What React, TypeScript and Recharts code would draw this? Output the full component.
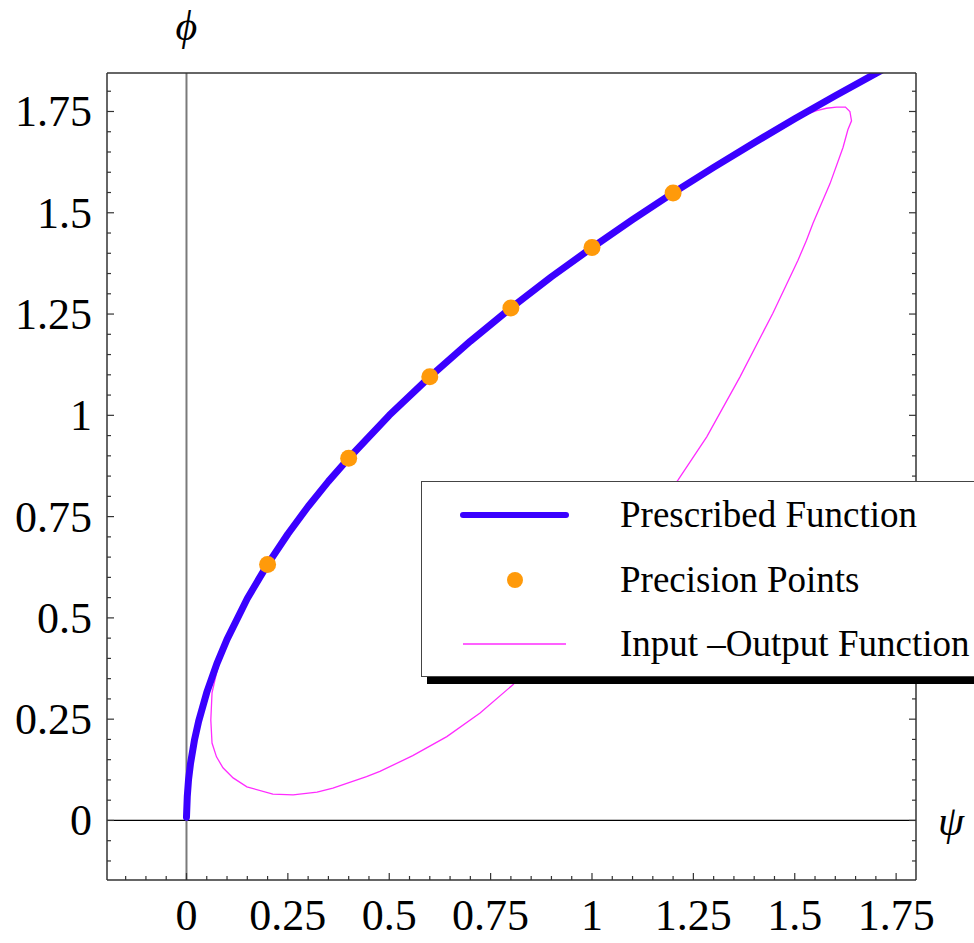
import React from 'react';
import { ComposedChart, Line, Scatter, XAxis, YAxis, ReferenceLine, Legend } from 'recharts';

// prescribed function phi(psi)
const prescribedPsi = [0, 0.002, 0.005, 0.01, 0.02, 0.03, 0.05, 0.075, 0.1, 0.15, 0.2, 0.25, 0.3, 0.35, 0.4, 0.5, 0.6, 0.7, 0.8, 0.9, 1.0, 1.1, 1.2, 1.3, 1.4, 1.5, 1.6, 1.7, 1.72];
const prescribedPhi = [0.008, 0.06, 0.1, 0.141, 0.2, 0.245, 0.316, 0.387, 0.447, 0.548, 0.632, 0.707, 0.775, 0.837, 0.894, 1.0, 1.095, 1.183, 1.265, 1.342, 1.414, 1.483, 1.549, 1.612, 1.673, 1.732, 1.789, 1.844, 1.855];

// precision points (orange dots)
const precisionPsi = [0.2, 0.4, 0.6, 0.8, 1.0, 1.2];
const precisionPhi = [0.632, 0.894, 1.095, 1.265, 1.414, 1.549];

// input-output function, a closed loop traced in order
const ioPsi = [0.074, 0.085, 0.1, 0.15, 0.2, 0.3, 0.4, 0.5, 0.6, 0.7, 0.8, 0.9, 1.0, 1.1, 1.2, 1.3, 1.4, 1.48, 1.504, 1.529, 1.554, 1.578, 1.603, 1.625, 1.636, 1.64, 1.631, 1.619, 1.587, 1.545, 1.529, 1.508, 1.446, 1.365, 1.283, 1.212, 1.1, 0.95, 0.805, 0.724, 0.642, 0.558, 0.477, 0.444, 0.361, 0.322, 0.263, 0.213, 0.149, 0.115, 0.09, 0.074, 0.063, 0.06, 0.063, 0.074];
const ioPhi = [0.364, 0.402, 0.441, 0.544, 0.628, 0.771, 0.89, 0.996, 1.091, 1.179, 1.261, 1.338, 1.41, 1.479, 1.545, 1.608, 1.669, 1.716, 1.729, 1.743, 1.752, 1.758, 1.761, 1.761, 1.75, 1.727, 1.705, 1.661, 1.572, 1.474, 1.432, 1.383, 1.252, 1.095, 0.947, 0.84, 0.69, 0.51, 0.335, 0.265, 0.207, 0.16, 0.121, 0.108, 0.08, 0.07, 0.063, 0.065, 0.083, 0.105, 0.13, 0.157, 0.191, 0.248, 0.315, 0.364];

const xTicks = [-0.15, -0.1, -0.05, 0, 0.05, 0.1, 0.15, 0.2, 0.25, 0.3, 0.35, 0.4, 0.45, 0.5, 0.55, 0.6, 0.65, 0.7, 0.75, 0.8, 0.85, 0.9, 0.95, 1, 1.05, 1.1, 1.15, 1.2, 1.25, 1.3, 1.35, 1.4, 1.45, 1.5, 1.55, 1.6, 1.65, 1.7, 1.75];
const yTicks = [-0.1, -0.05, 0, 0.05, 0.1, 0.15, 0.2, 0.25, 0.3, 0.35, 0.4, 0.45, 0.5, 0.55, 0.6, 0.65, 0.7, 0.75, 0.8, 0.85, 0.9, 0.95, 1, 1.05, 1.1, 1.15, 1.2, 1.25, 1.3, 1.35, 1.4, 1.45, 1.5, 1.55, 1.6, 1.65, 1.7, 1.75, 1.8];

const legendNames = ['Prescribed Function', 'Precision Points', 'Input \u2013Output Function'];

const prescribed = prescribedPsi.map((x, i) => ({ x, y: prescribedPhi[i] }));
const precision = precisionPsi.map((x, i) => ({ x, y: precisionPhi[i] }));
const ioLoop = ioPsi.map((x, i) => ({ x, y: ioPhi[i] }));

const SERIF = '"Liberation Serif", "Times New Roman", serif';
const BLUE = '#3a00ff';
const ORANGE = '#ff9a0a';
const MAGENTA = '#ff2cff';
const FRAME = '#333';

const isMajor = (v: number) => v >= 0 && Math.abs(v * 4 - Math.round(v * 4)) < 1e-6;
const tickLen = (v: number) => (Math.abs(v * 4 - Math.round(v * 4)) < 1e-6 ? 7 : 4);

const BottomTick = (props: any) => {
  const { x, y, payload } = props;
  const v = payload.value;
  return (
    <g>
      <line x1={x} x2={x} y1={y} y2={y - tickLen(v)} stroke={FRAME} strokeWidth={1.2} />
      {isMajor(v) && (
        <text x={x} y={y + 50} textAnchor="middle" fontSize={44} fontFamily={SERIF} fill="#000">
          {String(v)}
        </text>
      )}
    </g>
  );
};

const TopTick = (props: any) => {
  const { x, y, payload } = props;
  return <line x1={x} x2={x} y1={y} y2={y + tickLen(payload.value)} stroke={FRAME} strokeWidth={1.2} />;
};

const LeftTick = (props: any) => {
  const { x, y, payload } = props;
  const v = payload.value;
  return (
    <g>
      <line x1={x} x2={x + tickLen(v)} y1={y} y2={y} stroke={FRAME} strokeWidth={1.2} />
      {isMajor(v) && (
        <text x={x - 15} y={y} dy="0.34em" textAnchor="end" fontSize={44} fontFamily={SERIF} fill="#000">
          {String(v)}
        </text>
      )}
    </g>
  );
};

const RightTick = (props: any) => {
  const { x, y, payload } = props;
  return <line x1={x} x2={x - tickLen(payload.value)} y1={y} y2={y} stroke={FRAME} strokeWidth={1.2} />;
};

const LegendBox = () => {
  const rowY = [33, 98, 162];
  return (
    <div
      style={{
        position: 'relative',
        width: 560,
        height: 196,
        boxSizing: 'border-box',
        border: '1px solid #444',
        background: '#fff',
        boxShadow: '6px 7px 0 0 #000',
        fontFamily: SERIF,
      }}
    >
      <svg width={200} height={196} style={{ position: 'absolute', left: 0, top: 0 }}>
        <line x1={41} x2={144} y1={rowY[0]} y2={rowY[0]} stroke={BLUE} strokeWidth={6} strokeLinecap="round" />
        <circle cx={93} cy={rowY[1]} r={8} fill={ORANGE} />
        <line x1={41} x2={144} y1={rowY[2]} y2={rowY[2]} stroke={MAGENTA} strokeWidth={1.5} />
      </svg>
      {legendNames.map((name, i) => (
        <div
          key={name}
          style={{
            position: 'absolute',
            left: 198,
            top: rowY[i] - 22,
            fontSize: 37,
            lineHeight: '44px',
            whiteSpace: 'nowrap',
            color: '#000',
          }}
        >
          {name}
        </div>
      ))}
    </div>
  );
};

const axisLine = { stroke: FRAME, strokeWidth: 1.5 };

export default function App() {
  return (
    <div style={{ position: 'absolute', left: 0, top: 0, width: 974, height: 943, overflow: 'hidden', background: '#fff' }}>
      <ComposedChart width={974} height={943} margin={{ top: 0, right: 0, bottom: 0, left: 0 }}>
        <XAxis
          xAxisId="b"
          type="number"
          dataKey="x"
          domain={[-0.196, 1.799]}
          allowDataOverflow
          ticks={xTicks}
          interval={0}
          tickSize={0}
          tickMargin={0}
          height={63}
          tick={BottomTick}
          tickLine={false}
          axisLine={axisLine}
        />
        <XAxis
          xAxisId="t"
          orientation="top"
          type="number"
          domain={[-0.196, 1.799]}
          allowDataOverflow
          ticks={xTicks}
          interval={0}
          tickSize={0}
          tickMargin={0}
          height={73}
          tick={TopTick}
          tickLine={false}
          axisLine={axisLine}
        />
        <YAxis
          yAxisId="l"
          type="number"
          dataKey="y"
          domain={[-0.147, 1.845]}
          allowDataOverflow
          ticks={yTicks}
          interval={0}
          tickSize={0}
          tickMargin={0}
          width={107}
          tick={LeftTick}
          tickLine={false}
          axisLine={axisLine}
        />
        <YAxis
          yAxisId="r"
          orientation="right"
          type="number"
          domain={[-0.147, 1.845]}
          allowDataOverflow
          ticks={yTicks}
          interval={0}
          tickSize={0}
          tickMargin={0}
          width={58}
          tick={RightTick}
          tickLine={false}
          axisLine={axisLine}
        />
        <ReferenceLine
          xAxisId="b"
          yAxisId="l"
          y={0}
          stroke="#000"
          strokeWidth={1.2}
          label={{ value: '\u03c8', position: 'right', offset: 22, fontSize: 42, fontStyle: 'italic', fontFamily: SERIF, fill: '#000' }}
        />
        <ReferenceLine
          xAxisId="b"
          yAxisId="l"
          x={0}
          stroke="#7a7a7a"
          strokeWidth={2}
          label={{ value: '\u03d5', position: 'top', offset: 33, fontSize: 42, fontStyle: 'italic', fontFamily: SERIF, fill: '#000' }}
        />
        <Line
          xAxisId="b"
          yAxisId="l"
          data={ioLoop}
          dataKey="y"
          type="linear"
          stroke={MAGENTA}
          strokeWidth={1.3}
          dot={false}
          activeDot={false}
          isAnimationActive={false}
        />
        <Line
          xAxisId="b"
          yAxisId="l"
          data={prescribed}
          dataKey="y"
          type="linear"
          stroke={BLUE}
          strokeWidth={7}
          strokeLinejoin="round"
          strokeLinecap="round"
          dot={false}
          activeDot={false}
          isAnimationActive={false}
        />
        <Scatter
          xAxisId="b"
          yAxisId="l"
          data={precision}
          dataKey="y"
          fill={ORANGE}
          isAnimationActive={false}
          shape={(p: any) => <circle cx={p.cx} cy={p.cy} r={8.5} fill={ORANGE} />}
        />
        <Legend
          layout="vertical"
          align="center"
          verticalAlign="middle"
          content={() => <LegendBox />}
          wrapperStyle={{ left: 421, top: 481, width: 560, height: 196 }}
        />
      </ComposedChart>
    </div>
  );
}
